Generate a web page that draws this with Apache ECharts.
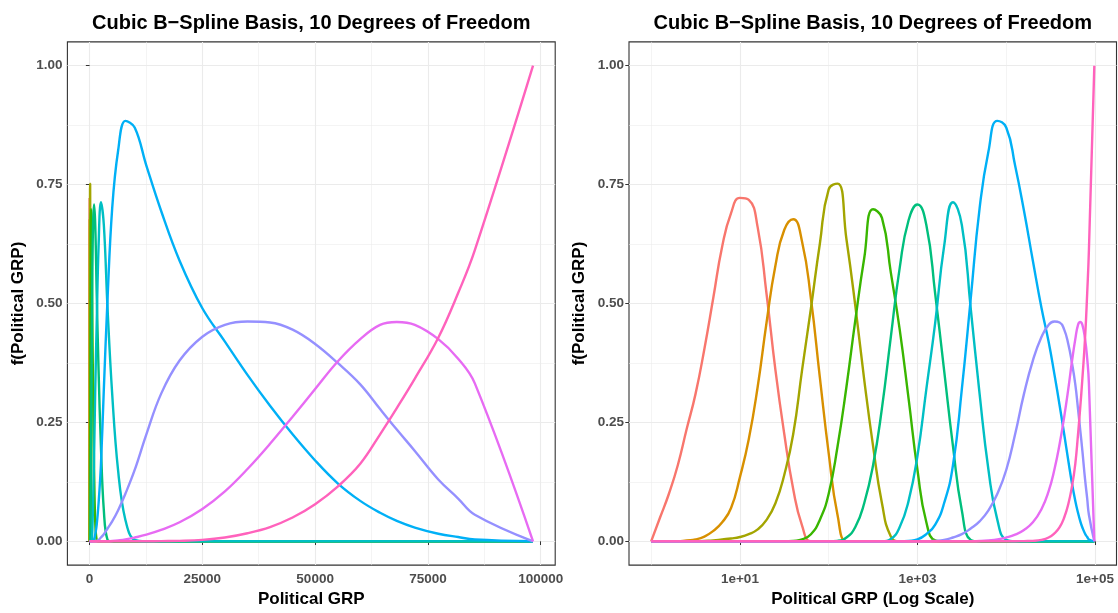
<!DOCTYPE html>
<html>
<head>
<meta charset="utf-8">
<script src="https://cdn.jsdelivr.net/npm/echarts@6/dist/echarts.min.js"></script>
<style>
  html, body { margin: 0; padding: 0; background: #ffffff; }
  #chart { width: 1118px; height: 613px; }
</style>
</head>
<body>
<div id="chart"></div>
<script>
// Political GRP values at which the basis is evaluated
const grp = [
  1, 1.259, 1.585, 1.995, 2.512, 3.162, 3.981, 5.012, 6.31, 7.943,
  10, 12.59, 15.85, 19.95, 25.12, 31.62, 39.81, 50.12, 63.1, 79.43,
  100, 125.9, 158.5, 199.5, 251.2, 316.2, 398.1, 501.2, 631, 794.3,
  1000, 1259, 1585, 1995, 2512, 3162, 3981, 5012, 6310, 7943,
  10000, 12589, 15849, 19953, 25000, 30000, 35000, 40000, 45000, 50000,
  55000, 60000, 64400, 68100, 72100, 77300, 81700, 85400, 98300
];

// Cubic B-spline basis functions (10 degrees of freedom), one value per grp entry
const basis1 = [
  0, .05, .10, .16, .236, .31, .405, .512, .62, .69,
  .722, .718, .66, .52, .36, .225, .11, .033, 0, 0,
  0, 0, 0, 0, 0, 0, 0, 0, 0, 0,
  0, 0, 0, 0, 0, 0, 0, 0, 0, 0,
  0, 0, 0, 0, 0, 0, 0, 0, 0, 0,
  0, 0, 0, 0, 0, 0, 0, 0, 0
];
const basis2 = [
  0, 0, 0, 0, .002, .004, .01, .022, .04, .07,
  .135, .215, .325, .46, .58, .655, .677, .63, .51, .345,
  .185, .055, 0, 0, 0, 0, 0, 0, 0, 0,
  0, 0, 0, 0, 0, 0, 0, 0, 0, 0,
  0, 0, 0, 0, 0, 0, 0, 0, 0, 0,
  0, 0, 0, 0, 0, 0, 0, 0, 0
];
const basis3 = [
  0, 0, 0, 0, 0, 0, .001, .002, .004, .006,
  .009, .015, .025, .045, .08, .14, .225, .36, .49, .625,
  .74, .752, .635, .495, .34, .2, .08, .01, 0, 0,
  0, 0, 0, 0, 0, 0, 0, 0, 0, 0,
  0, 0, 0, 0, 0, 0, 0, 0, 0, 0,
  0, 0, 0, 0, 0, 0, 0, 0, 0
];
const basis4 = [
  0, 0, 0, 0, 0, 0, 0, 0, 0, 0,
  0, 0, 0, 0, 0, 0, .001, .004, .015, .045,
  .10, .20, .325, .465, .595, .698, .68, .565, .445, .30,
  .15, .04, .002, 0, 0, 0, 0, 0, 0, 0,
  0, 0, 0, 0, 0, 0, 0, 0, 0, 0,
  0, 0, 0, 0, 0, 0, 0, 0, 0
];
const basis5 = [
  0, 0, 0, 0, 0, 0, 0, 0, 0, 0,
  0, 0, 0, 0, 0, 0, 0, 0, 0, 0,
  0, .001, .008, .03, .08, .16, .28, .43, .575, .675,
  .708, .665, .52, .36, .2, .065, .003, 0, 0, 0,
  0, 0, 0, 0, 0, 0, 0, 0, 0, 0,
  0, 0, 0, 0, 0, 0, 0, 0, 0
];
const basis6 = [
  0, 0, 0, 0, 0, 0, 0, 0, 0, 0,
  0, 0, 0, 0, 0, 0, 0, 0, 0, 0,
  0, 0, 0, 0, 0, 0, 0, .005, .03, .085,
  .18, .32, .46, .62, .713, .665, .49, .31, .15, .045,
  .003, 0, 0, 0, 0, 0, 0, 0, 0, 0,
  0, 0, 0, 0, 0, 0, 0, 0, 0
];
const basis7 = [
  0, 0, 0, 0, 0, 0, 0, 0, 0, 0,
  0, 0, 0, 0, 0, 0, 0, 0, 0, 0,
  0, 0, 0, 0, 0, 0, 0, 0, 0, .001,
  .004, .015, .035, .08, .16, .32, .51, .70, .82, .884,
  .87, .79, .695, .59, .49, .42, .35, .285, .225, .17,
  .122, .085, .06, .043, .029, .016, .009, .004, 0
];
const basis8 = [
  0, 0, 0, 0, 0, 0, 0, 0, 0, 0,
  0, 0, 0, 0, 0, 0, 0, 0, 0, 0,
  0, 0, 0, 0, 0, 0, 0, 0, 0, 0,
  0, 0, .001, .003, .008, .015, .027, .042, .065, .10,
  .15, .225, .31, .38, .43, .455, .462, .46, .445, .415,
  .375, .33, .278, .235, .19, .13, .09, .056, 0
];
const basis9 = [
  0, 0, 0, 0, 0, 0, 0, 0, 0, 0,
  0, 0, 0, 0, 0, 0, 0, 0, 0, 0,
  0, 0, 0, 0, 0, 0, 0, 0, 0, 0,
  0, 0, 0, 0, 0, 0, .0002, .0008, .002, .004,
  .008, .014, .024, .04, .068, .105, .152, .205, .262, .32,
  .378, .425, .455, .461, .455, .425, .384, .332, 0
];
const basis10 = [
  0, 0, 0, 0, 0, 0, 0, 0, 0, 0,
  0, 0, 0, 0, 0, 0, 0, 0, 0, 0,
  0, 0, 0, 0, 0, 0, 0, 0, 0, 0,
  0, 0, 0, 0, 0, 0, 0, 0, 0, 0,
  0, .0001, .0005, .001, .003, .008, .017, .03, .05, .078,
  .115, .163, .225, .28, .342, .428, .522, .612, 1
];

const basisList = [basis1, basis2, basis3, basis4, basis5, basis6, basis7, basis8, basis9, basis10];
const basisColors = ['#F8766D', '#D89000', '#A3A500', '#39B600', '#00BF7D',
                     '#00BFC4', '#00B0F6', '#9590FF', '#E76BF3', '#FF62BC'];

// Axis breaks
const linearTicks = [0, 25000, 50000, 75000, 100000];
const linearMinor = [12500, 37500, 62500, 87500];
const logTicks = [10, 1000, 100000];
const logMinor = [1, 100, 10000];
const fTicks = [0, 0.25, 0.5, 0.75, 1];
const fMinor = [0.125, 0.375, 0.625, 0.875];

const titleText = 'Cubic B\u2212Spline Basis, 10 Degrees of Freedom';

const FONT = '"Liberation Sans", Arial, Helvetica, sans-serif';
const GRID_LINE = '#EBEBEB';
const INK = '#333333';

const linearRange = { min: -4915, max: 103215 };
const logRange = { min: 0.5627, max: 174700 };
const fRange = { min: -0.05, max: 1.05 };

function tickLabelStyle(extra) {
  return Object.assign({
    color: '#4D4D4D', fontFamily: FONT, fontSize: 13.5, fontWeight: 'bold'
  }, extra);
}
function nameStyle() {
  return { color: '#000000', fontFamily: FONT, fontSize: 17, fontWeight: 'bold' };
}

function mainX(gridIndex, type, range, ticks, formatter, name) {
  const ax = {
    type: type, gridIndex: gridIndex, min: range.min, max: range.max,
    position: 'bottom',
    axisLine: { show: false },
    axisTick: { show: true, customValues: ticks, length: 3.7, lineStyle: { color: INK, width: 1 } },
    axisLabel: tickLabelStyle({ customValues: ticks, formatter: formatter, margin: 7 }),
    splitLine: { show: true, lineStyle: { color: GRID_LINE, width: 1.1 } },
    name: name, nameLocation: 'middle', nameGap: 25, nameTextStyle: nameStyle()
  };
  if (type === 'log') ax.logBase = 10;
  return ax;
}
function minorX(gridIndex, type, range, ticks) {
  const ax = {
    type: type, gridIndex: gridIndex, min: range.min, max: range.max,
    position: 'bottom',
    axisLine: { show: false },
    axisTick: { show: false, customValues: ticks },
    axisLabel: { show: false },
    splitLine: { show: true, lineStyle: { color: GRID_LINE, width: 0.55 } }
  };
  if (type === 'log') ax.logBase = 10;
  return ax;
}
function mainY(gridIndex) {
  return {
    type: 'value', gridIndex: gridIndex, min: fRange.min, max: fRange.max,
    position: 'left',
    axisLine: { show: false },
    axisTick: { show: true, customValues: fTicks, length: 3.7, lineStyle: { color: INK, width: 1 } },
    axisLabel: tickLabelStyle({ customValues: fTicks, formatter: v => v.toFixed(2), margin: 5 }),
    splitLine: { show: true, lineStyle: { color: GRID_LINE, width: 1.1 } },
    name: 'f(Political GRP)', nameLocation: 'middle', nameGap: 41, nameTextStyle: nameStyle()
  };
}
function minorY(gridIndex) {
  return {
    type: 'value', gridIndex: gridIndex, min: fRange.min, max: fRange.max,
    position: 'left',
    axisLine: { show: false },
    axisTick: { show: false, customValues: fMinor },
    axisLabel: { show: false },
    splitLine: { show: true, lineStyle: { color: GRID_LINE, width: 0.55 } }
  };
}

const plainNumber = v => String(v);
const sciLabel = v => {
  const s = Number(v).toExponential();
  return s.replace(/e([+-])(\d)$/, 'e$10$2');
};

function basisSeries(vals, k, xAxisIndex, yAxisIndex, smooth) {
  return {
    type: 'line', name: 'B' + (k + 1), xAxisIndex: xAxisIndex, yAxisIndex: yAxisIndex,
    data: grp.map((x, i) => [x, vals[i]]),
    showSymbol: false, symbol: 'none', smooth: smooth,
    lineStyle: { color: basisColors[k], width: 2.4 }, itemStyle: { color: basisColors[k] },
    emphasis: { disabled: true }, animation: false
  };
}

const series = [];
basisList.forEach((vals, k) => series.push(basisSeries(vals, k, 0, 0, 0.4)));
basisList.forEach((vals, k) => series.push(basisSeries(vals, k, 2, 2, 0.5)));

const grids = [
  { left: 67.4, width: 487.8, top: 41.9, height: 530.5 },
  { left: 629, width: 487.5, top: 41.9, height: 530.5 }
];

const option = {
  animation: false,
  backgroundColor: '#ffffff',
  title: grids.map(g => ({
    text: titleText,
    left: g.left + g.width / 2,
    top: 13,
    padding: 0,
    textAlign: 'center',
    textStyle: { color: '#000000', fontFamily: FONT, fontSize: 20, fontWeight: 'bold' }
  })),
  grid: grids.map(g => Object.assign({
    show: true, borderColor: INK, borderWidth: 1.1, backgroundColor: 'transparent', containLabel: false
  }, g)),
  xAxis: [
    mainX(0, 'value', linearRange, linearTicks, plainNumber, 'Political GRP'),
    minorX(0, 'value', linearRange, linearMinor),
    mainX(1, 'log', logRange, logTicks, sciLabel, 'Political GRP (Log Scale)'),
    minorX(1, 'log', logRange, logMinor)
  ],
  yAxis: [mainY(0), minorY(0), mainY(1), minorY(1)],
  series: series
};

const chart = echarts.init(document.getElementById('chart'), null, { renderer: 'canvas' });
chart.setOption(option);
</script>
</body>
</html>
